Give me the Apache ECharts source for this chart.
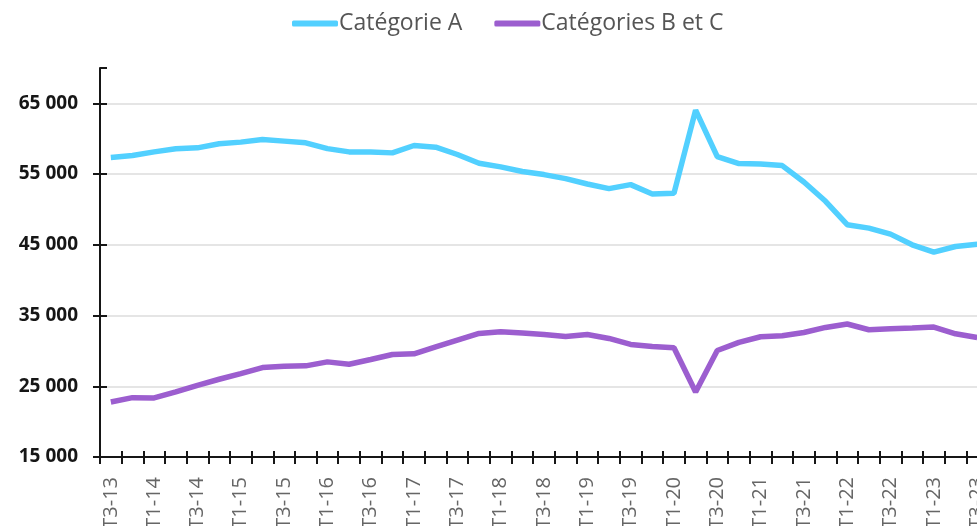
<!DOCTYPE html>
<html>
<head>
<meta charset="utf-8">
<script src="https://cdn.jsdelivr.net/npm/echarts@6/dist/echarts.min.js"></script>
<style>
  html, body { margin: 0; padding: 0; background: #fff; overflow: hidden; }
  #chart { width: 1000px; height: 526px; }
</style>
</head>
<body>
<div id="chart"></div>
<script>
// Quarters from T3-13 to T3-23 (the chart is cut on its right side)
const quarters = [
    'T3-13', 'T4-13',
    'T1-14', 'T2-14', 'T3-14', 'T4-14',
    'T1-15', 'T2-15', 'T3-15', 'T4-15',
    'T1-16', 'T2-16', 'T3-16', 'T4-16',
    'T1-17', 'T2-17', 'T3-17', 'T4-17',
    'T1-18', 'T2-18', 'T3-18', 'T4-18',
    'T1-19', 'T2-19', 'T3-19', 'T4-19',
    'T1-20', 'T2-20', 'T3-20', 'T4-20',
    'T1-21', 'T2-21', 'T3-21', 'T4-21',
    'T1-22', 'T2-22', 'T3-22', 'T4-22',
    'T1-23', 'T2-23', 'T3-23'
];

const categorieA = [
    57340, 57620, 58140, 58570, 58710, 59280, 59520, 59890, 59660, 59420,
    58600, 58140, 58140, 58000, 59040, 58800, 57770, 56540, 56020, 55360,
    54930, 54360, 53600, 52940, 53510, 52190, 52280, 64050, 57480, 56490,
    56440, 56200, 53890, 51150, 47840, 47360, 46510, 45000, 43960, 44760,
    45090
];

const categoriesBC = [
    22780, 23390, 23350, 24200, 25140, 25990, 26800, 27650, 27840, 27890,
    28450, 28120, 28780, 29490, 29590, 30580, 31530, 32470, 32710, 32520,
    32330, 32050, 32330, 31760, 30910, 30630, 30440, 24200, 30060, 31200,
    32000, 32140, 32610, 33320, 33800, 32990, 33130, 33230, 33370, 32420,
    31900
];

const yTicks = { min: 15000, max: 70000, step: 10000 };

const chart = echarts.init(document.getElementById('chart'));

const formatThousands = v => String(v).replace(/\B(?=(\d{3})+(?!\d))/g, ' ');

const axisColor = '#161616';

chart.setOption({
    backgroundColor: '#fff',
    animation: false,
    legend: {
        left: 287,
        top: 7,
        icon: 'roundRect',
        itemWidth: 46,
        itemHeight: 6,
        itemGap: 32,
        textStyle: { color: '#555', fontSize: 23, fontFamily: 'Open Sans', padding: [0, 0, 0, -4] },
        data: ['Catégorie A', 'Catégories B et C']
    },
    grid: { left: 100, right: 12, top: 68, bottom: 69, containLabel: false, outerBoundsMode: 'none' },
    xAxis: [
        {
            type: 'category',
            data: quarters,
            boundaryGap: true,
            axisLine: { lineStyle: { color: axisColor, width: 2 } },
            axisTick: { show: true, interval: 0, length: 7, lineStyle: { color: axisColor, width: 2 } },
            axisLabel: {
                interval: 1, rotate: 90, margin: 20,
                color: '#666', fontSize: 20, fontFamily: 'Open Sans'
            },
            splitLine: { show: false }
        },
        {
            type: 'category',
            data: quarters,
            position: 'bottom',
            boundaryGap: true,
            axisLine: { show: false },
            axisTick: { show: true, inside: true, interval: 0, length: 6, lineStyle: { color: axisColor, width: 2 } },
            axisLabel: { show: false },
            splitLine: { show: false }
        }
    ],
    yAxis: [
        {
            type: 'value',
            min: yTicks.min,
            max: yTicks.max,
            interval: yTicks.step,
            axisLine: { show: true, lineStyle: { color: axisColor, width: 2 } },
            axisTick: { show: true, length: 7, lineStyle: { color: axisColor, width: 2 } },
            axisLabel: {
                margin: 22, showMaxLabel: false,
                color: '#161616', fontSize: 19, fontWeight: 'bold', fontFamily: 'Open Sans',
                formatter: v => v === yTicks.max ? '' : formatThousands(v)
            },
            splitLine: { show: true, showMinLine: false, showMaxLine: false, lineStyle: { color: '#dcdcdc', width: 1.5 } }
        },
        {
            type: 'value',
            min: yTicks.min,
            max: yTicks.max,
            interval: yTicks.step,
            position: 'left',
            axisLine: { show: false },
            axisTick: { show: true, inside: true, length: 7, lineStyle: { color: axisColor, width: 2 } },
            axisLabel: { show: false },
            splitLine: { show: false }
        }
    ],
    series: [
        {
            name: 'Catégorie A', type: 'line',
            data: categorieA,
            symbol: 'none',
            lineStyle: { color: '#52d0ff', width: 5.5 },
            itemStyle: { color: '#52d0ff' }
        },
        {
            name: 'Catégories B et C', type: 'line',
            data: categoriesBC,
            symbol: 'none',
            lineStyle: { color: '#9c5ecf', width: 5.5 },
            itemStyle: { color: '#9c5ecf' }
        }
    ]
});
</script>
</body>
</html>
